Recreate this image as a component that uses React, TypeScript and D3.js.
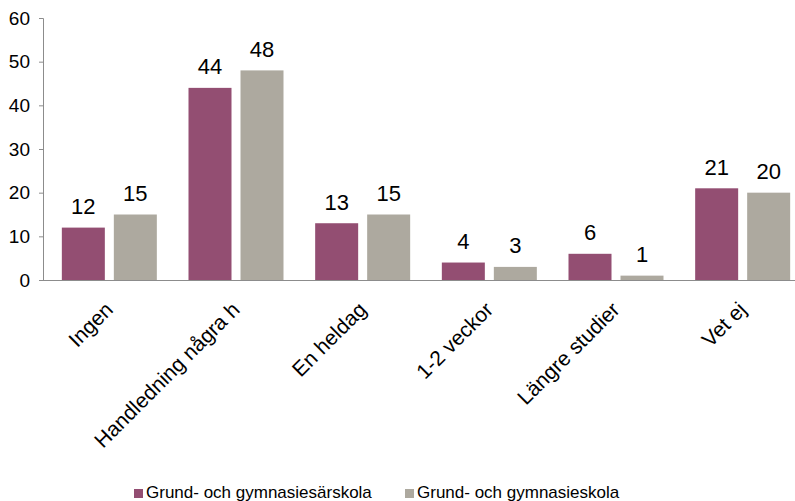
import React, { useEffect, useRef } from 'react';
import * as d3 from 'd3';

const categories = ['Ingen', 'Handledning några h', 'En heldag', '1-2 veckor', 'Längre studier', 'Vet ej'];
const serieNames = ['Grund- och gymnasiesärskola', 'Grund- och gymnasieskola'];
const sarskola = [12, 44, 13, 4, 6, 21];
const gymnasieskola = [15, 48, 15, 3, 1, 20];
const yTicks = [0, 10, 20, 30, 40, 50, 60];
const colors = ['#934e72', '#ada99f'];

const App: React.FC = () => {
  const ref = useRef<SVGSVGElement | null>(null);

  useEffect(() => {
    if (!ref.current) return;
    const svg = d3.select(ref.current);
    svg.selectAll('*').remove();
    const font = 'Liberation Sans, Arial, sans-serif';

    const x = d3.scaleBand<string>().domain(categories).range([46, 806]).padding(0);
    const y = d3.scaleLinear().domain([0, 60]).range([280, 18]);
    const barW = 43;
    const gap = 9;

    const series = [sarskola, gymnasieskola];

    series.forEach((vals, si) => {
      const g = svg.append('g');
      g.selectAll('rect')
        .data(vals)
        .enter()
        .append('rect')
        .attr('x', (d, i) => {
          const c = (x(categories[i]) as number) + x.bandwidth() / 2;
          return si === 0 ? c - gap / 2 - barW : c + gap / 2;
        })
        .attr('y', d => y(d))
        .attr('width', barW)
        .attr('height', d => y(0) - y(d))
        .attr('fill', colors[si]);

      g.selectAll('text')
        .data(vals)
        .enter()
        .append('text')
        .attr('x', (d, i) => {
          const c = (x(categories[i]) as number) + x.bandwidth() / 2;
          return si === 0 ? c - gap / 2 - barW / 2 : c + gap / 2 + barW / 2;
        })
        .attr('y', d => y(d) - 13.5)
        .attr('text-anchor', 'middle')
        .attr('font-family', font)
        .attr('font-size', 22)
        .attr('fill', '#000')
        .text(d => d);
    });

    // y axis
    const yAxis = svg.append('g').attr('transform', 'translate(43,0)')
      .call(d3.axisLeft(y).tickValues(yTicks).tickSize(4).tickPadding(9));
    yAxis.select('.domain').attr('stroke', '#8c8c8c').attr('d', 'M-4,18.5H0.5V280.5');
    yAxis.selectAll('.tick line').attr('stroke', '#8c8c8c');
    yAxis.selectAll('.tick text').attr('font-family', font).attr('font-size', 19).attr('fill', '#000');

    // x axis line
    svg.append('line')
      .attr('x1', 40).attr('x2', 795)
      .attr('y1', y(0) + 0.5).attr('y2', y(0) + 0.5)
      .attr('stroke', '#8c8c8c');

    // category labels
    svg.append('g').selectAll('text')
      .data(categories)
      .enter()
      .append('text')
      .attr('transform', d => {
        const c = (x(d) as number) + x.bandwidth() / 2;
        return `translate(${c + 5},${311}) rotate(-45)`;
      })
      .attr('text-anchor', 'end')
      .attr('font-family', font)
      .attr('font-size', 21)
      .attr('fill', '#000')
      .text(d => d);

    // legend
    const legendX = [134, 405];
    serieNames.forEach((name, i) => {
      svg.append('rect')
        .attr('x', legendX[i]).attr('y', 489)
        .attr('width', 9).attr('height', 9)
        .attr('fill', colors[i]);
      svg.append('text')
        .attr('x', legendX[i] + 12).attr('y', 498)
        .attr('font-family', font)
        .attr('font-size', 17)
        .attr('fill', '#000')
        .text(name);
    });
  }, []);

  return (
    <div style={{ position: 'absolute', left: 0, top: 0 }}>
      <svg ref={ref} width={795} height={501} style={{ display: 'block', background: '#fff' }} />
    </div>
  );
};

export default App;
